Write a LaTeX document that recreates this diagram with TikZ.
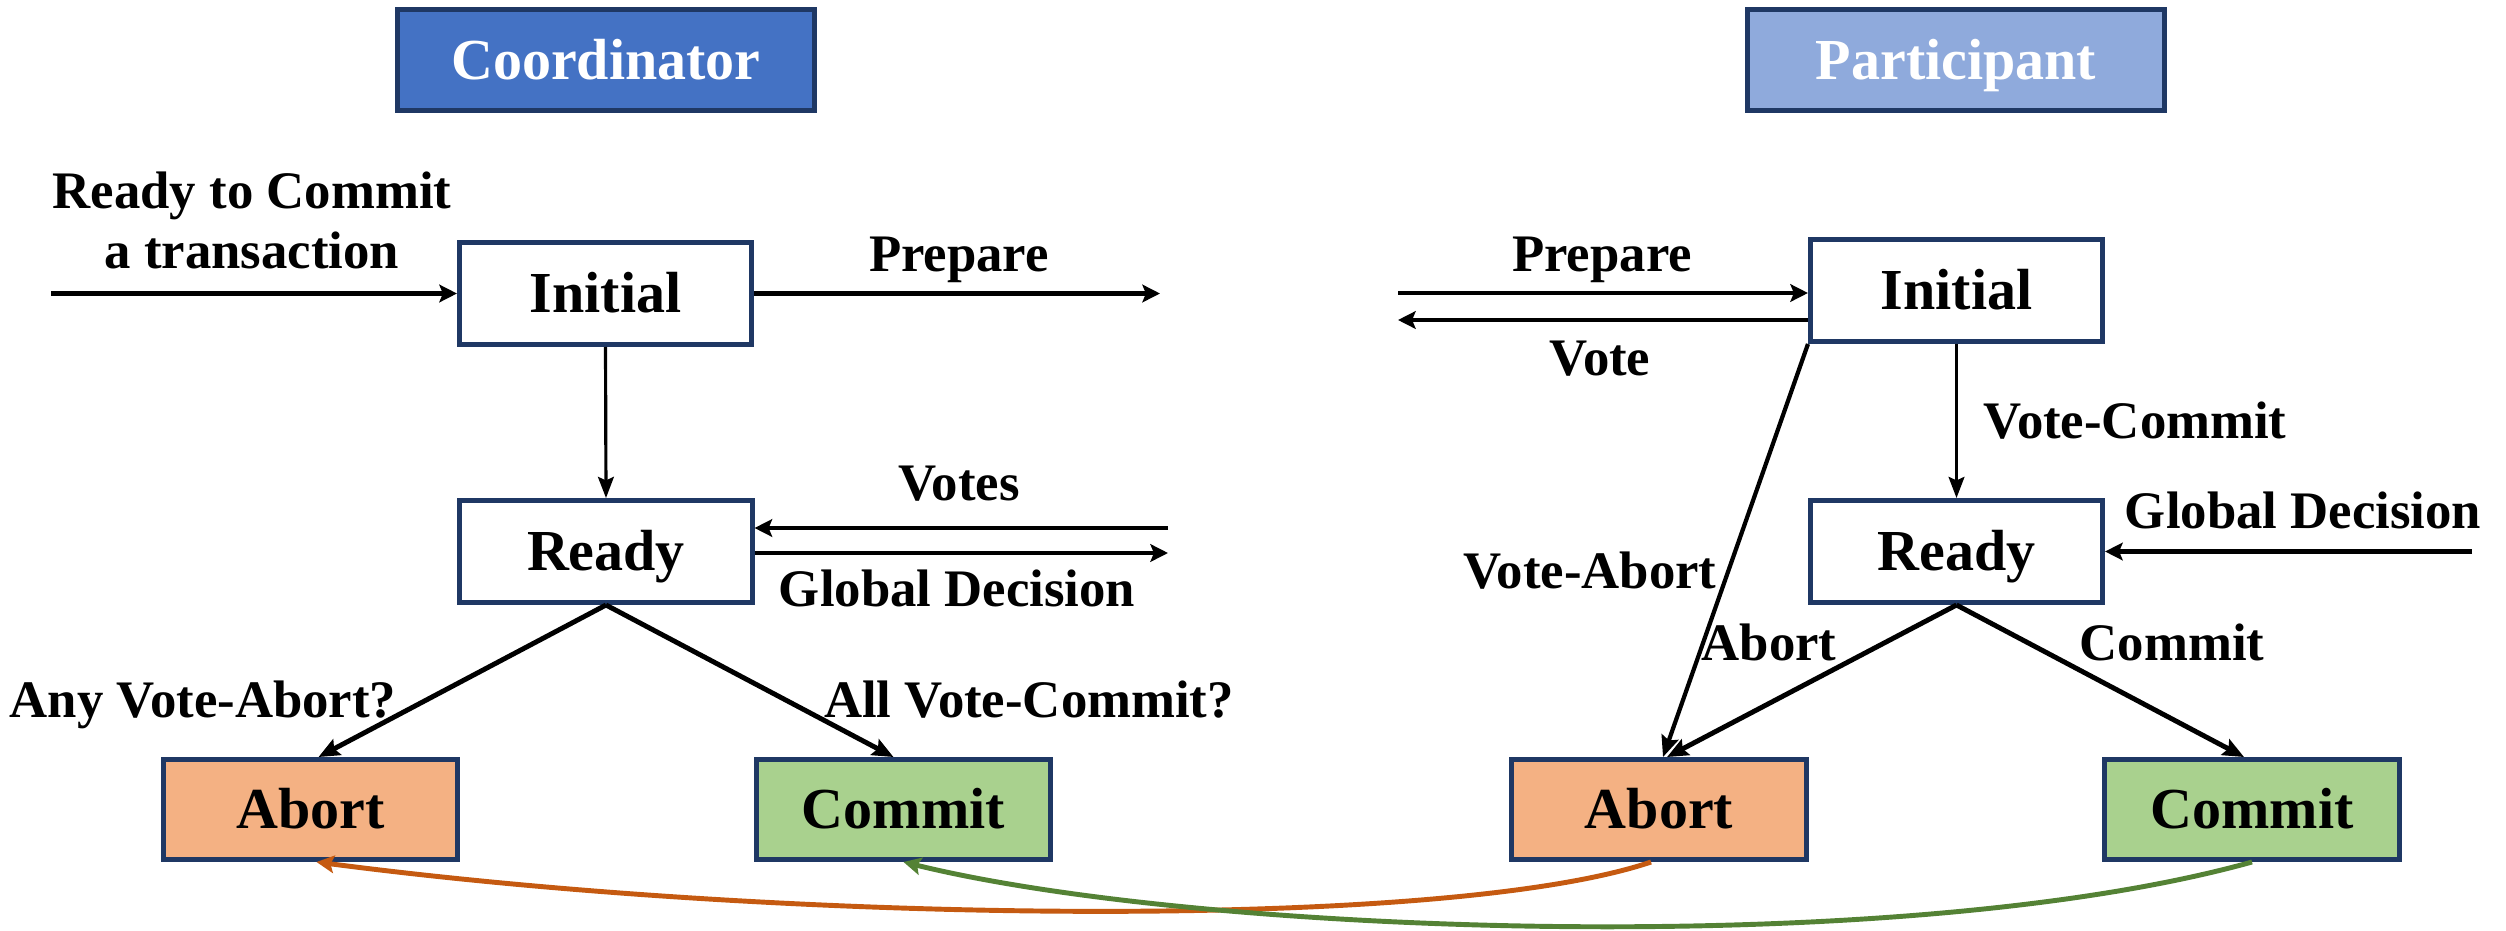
\documentclass[tikz,border=0pt]{standalone}
\usepackage{fontspec}
\setmainfont{Liberation Serif}
\usetikzlibrary{arrows.meta,calc}

\definecolor{navy}{HTML}{1F3864}
\definecolor{coordblue}{HTML}{4472C4}
\definecolor{partblue}{HTML}{8FAADC}
\definecolor{abortfill}{HTML}{F4B183}
\definecolor{commitfill}{HTML}{A9D18E}
\definecolor{abortline}{HTML}{C55A11}
\definecolor{commitline}{HTML}{548235}

\begin{document}
\begin{tikzpicture}[x=0.01cm,y=-0.01cm,
  statebox/.style={draw=navy, line width=1.4pt, fill=white, inner sep=0pt,
    minimum width=2.92cm, minimum height=1.02cm,
    text height=11pt, text depth=0pt,
    font=\fontsize{16.5}{19}\selectfont\bfseries},
  titlebox/.style={statebox, minimum width=4.17cm, minimum height=1.01cm, text=white},
  endbox/.style={statebox, minimum width=2.94cm, minimum height=1.0cm},
  lbl/.style={anchor=base, inner sep=0pt, font=\fontsize{15}{18}\selectfont\bfseries},
  msg/.style={line width=1.4pt, -{Stealth[length=5pt,width=5pt,inset=1pt]}},
  flow/.style={line width=0.9pt, -{Stealth[length=6pt,width=4.5pt,inset=1pt]}},
  branch/.style={line width=1.4pt, -{Stealth[length=6pt,width=5pt,inset=1pt]}},
  reply/.style={line width=1.4pt}
]
\useasboundingbox (0,0) rectangle (2506,930);

% ---- Coordinator side ----
\node[titlebox, fill=coordblue] (ctitle) at (606,60) {Coordinator};
\node[statebox] (cinit)  at (605.5,293.5) {Initial};
\node[statebox] (cready) at (606,551.5) {Ready};
\node[endbox, fill=abortfill]  (cabort)  at (310.5,809.5) {Abort};
\node[endbox, fill=commitfill] (ccommit) at (903.5,809.5) {Commit};

\coordinate (inL)   at (51,293.5);
\coordinate (prepR) at (1160,293.5);
\coordinate (votesR) at (1168,528);
\coordinate (gdR)   at (1168,553);

\draw[msg] (inL) -- (cinit.west);
\draw[msg] (cinit.east) -- (prepR);
\draw[flow] (cinit.south) -- (cready.north);
\draw[msg] (votesR) -- (votesR -| cready.east);
\draw[msg] (cready.east |- gdR) -- (gdR);
\draw[branch] (cready.south) -- ($(cabort.north)+(8,0)$);
\draw[branch] (cready.south) -- ($(ccommit.north)+(-10,0)$);

\node[lbl, align=center] (lready) at (252,268) {Ready to Commit\\[-1pt]a transaction};
\node[lbl] (lprep)  at (959,271) {Prepare};
\node[lbl] (lvotes) at (959,500) {Votes};
\node[lbl] (lgd)    at (957,606) {Global Decision};
\node[lbl] (lany)   at (203,717) {Any Vote-Abort?};
\node[lbl] (lall)   at (1029,717) {All Vote-Commit?};

% ---- Participant side ----
\node[titlebox, fill=partblue] (ptitle) at (1956,60) {Participant};
\node[statebox] (pinit)  at (1956.5,290.5) {Initial};
\node[statebox] (pready) at (1956.5,551.5) {Ready};
\node[endbox, fill=abortfill]  (pabort)  at (1659,809.5) {Abort};
\node[endbox, fill=commitfill] (pcommit) at (2252,809.5) {Commit};

\coordinate (pprepL) at (1398,293);
\coordinate (pvoteL) at (1398,320);
\coordinate (pgdR)   at (2472,551.5);

\draw[msg] (pprepL) -- (pprepL -| pinit.west);
\draw[msg] (pinit.west |- pvoteL) -- (pvoteL);
\draw[flow] (pinit.south) -- (pready.north);
\draw[msg] (pgdR) -- (pready.east);
\draw[line width=1.2pt, -{Stealth[length=6pt,width=5pt,inset=1pt]}] (pinit.south west) -- ($(pabort.north)+(4,0)$);
\draw[branch] (pready.south) -- ($(pabort.north)+(8,0)$);
\draw[branch] (pready.south) -- ($(pcommit.north)+(-8,0)$);

\node[lbl] (lpprep) at (1602,271) {Prepare};
\node[lbl] (lpvote) at (1600,375) {Vote};
\node[lbl, anchor=base west] (lvc) at (1983,438) {Vote-Commit};
\node[lbl] (lpgd)   at (2303,528) {Global Decision};
\node[lbl] (lva)    at (1590,588) {Vote-Abort};
\node[lbl] (lpab)   at (1769,660) {Abort};
\node[lbl] (lpcm)   at (2172,660) {Commit};

% ---- outcome propagated back to the coordinator ----
\draw[reply, draw=abortline, -{Stealth[length=5pt,width=5pt,inset=1pt,fill=abortline]}]
  ($(pabort.south)+(-8,0)$) .. controls (1450,930) and (800,925) .. ($(cabort.south)+(6,0)$);
\draw[reply, draw=commitline, -{Stealth[length=5pt,width=5pt,inset=1pt,fill=commitline]}]
  (pcommit.south) .. controls (1900,960) and (1200,935) .. ($(ccommit.south)+(0,0)$);
\end{tikzpicture}
\end{document}
